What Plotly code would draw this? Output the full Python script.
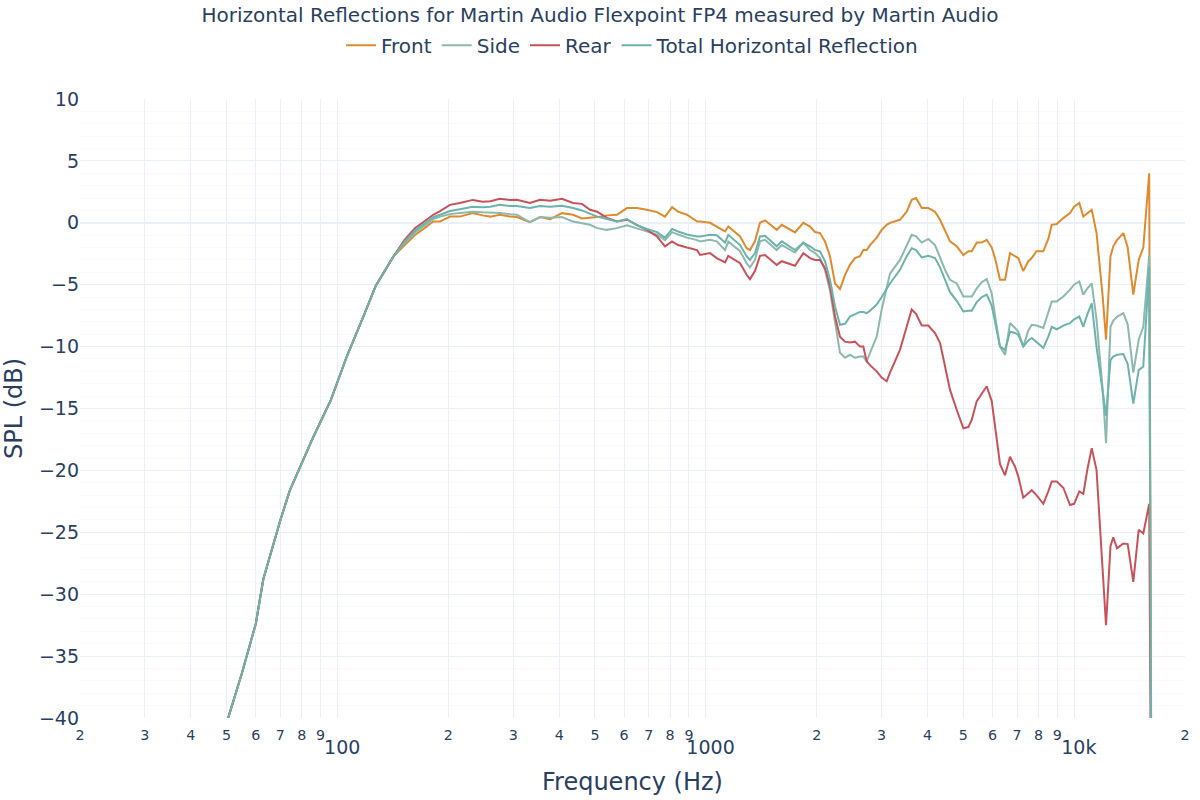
import plotly.graph_objects as go

# Shared frequency grid (Hz)
freq = [45, 50.5, 55, 60, 62.9, 66, 70, 74.3, 81, 86, 96, 106, 117.5, 127, 142,
        152, 162, 172, 182, 190, 202, 215, 233, 248, 260, 276, 294, 307, 333, 355,
        378, 407, 436, 461, 485, 507, 539, 574, 611, 650, 692, 737, 775, 810, 841,
        889, 947, 965, 1027, 1071, 1128, 1151, 1239, 1291, 1318, 1360, 1403, 1448,
        1558, 1608, 1747, 1840, 1919, 1980, 2042, 2107, 2174, 2243, 2314, 2388,
        2463, 2541, 2622, 2677, 2735, 2792, 2911, 3003, 3098, 3163, 3367, 3511,
        3623, 3722, 3857, 4019, 4191, 4325, 4462, 4603, 4800, 5004, 5163, 5274,
        5441, 5613, 5790, 5975, 6099, 6292, 6493, 6698, 6912, 7056, 7277, 7510,
        7672, 7904, 8249, 8510, 8694, 8971, 9347, 9747, 10000, 10330, 10592,
        10860, 11163, 11502, 11958, 12207, 12554, 12776, 13075, 13600, 13979,
        14477, 14974, 15411, 15990, 16273]

low = [-47, -40, -36.4, -32.4, -28.8, -26.6, -24.0, -21.6, -19.1, -17.3, -14.3,
       -10.8, -7.6, -5.1, -2.7]

front = low + [
    -1.85, -1.0, -0.45, 0.1, 0.1, 0.5, 0.5, 0.78, 0.6, 0.5, 0.65, 0.5, 0.46, 0.05, 0.46,
    0.3, 0.78, 0.65, 0.35, 0.4, 0.46, 0.6, 0.65, 1.19, 1.19, 1.05, 0.86, 0.5, 1.27, 0.9,
    0.65, 0.1, 0.1, 0.0, -0.3, -0.7, -0.3, -1.1, -2.05, -2.2, -1.5, 0.0, 0.2,
    -0.57, -0.16, -0.78, 0.0, -0.3, -0.75, -0.83, -1.5, -2.7, -4.9, -5.35, -4.2,
    -3.4, -2.85, -2.7, -2.2, -2.2, -1.8, -1.2, -0.57, -0.16, 0.0, 0.24, 0.9,
    1.86, 2.0, 1.19, 1.19, 0.9, 0.24, -0.7, -1.5, -1.9, -2.6, -2.3, -2.3,
    -1.6, -1.6, -1.37, -2.0, -2.85, -4.6, -4.6, -2.45, -2.7, -2.85, -3.9, -3.1,
    -2.85, -2.3, -2.3, -1.3, -0.16, -0.1, 0.38, 0.78, 1.3, 1.6, 0.5,
    0.8, 1.05, -0.8, -6.0, -9.45, -2.7, -1.9, -1.4, -0.83, -2.0,
    -5.8, -3.0, -2.0, 4.0, -60]

side = low + [
    -1.65, -0.8, -0.2, 0.3, 0.5, 0.7, 0.8, 0.9, 0.85, 0.85, 0.8, 0.7, 0.65, 0.05, 0.46,
    0.4, 0.46, 0.1, -0.05, -0.16, -0.43, -0.57, -0.43, -0.2, -0.45, -0.7, -0.95, -1.4, -0.75, -0.95,
    -1.2, -1.4, -1.5, -1.37, -1.5, -2.2, -1.5, -2.3, -3.26, -3.6, -3.0, -1.5, -1.37,
    -2.2, -1.8, -2.4, -1.6, -2.2, -2.45, -2.85, -3.8, -5.5, -7.9, -10.5, -10.9,
    -10.66, -10.9, -10.8, -10.8, -11.2, -10.5, -9.2, -7.0, -5.3, -4.1, -3.0, -1.9,
    -0.97, -1.1, -1.6, -1.3, -1.8, -2.8, -3.8, -4.6, -4.9, -5.95, -5.95, -5.95,
    -5.3, -4.8, -4.55, -5.7, -7.5, -10.0, -10.66, -8.1, -8.5, -8.8, -10.0, -8.7,
    -8.24, -8.3, -8.5, -7.3, -6.35, -6.35, -5.95, -5.4, -5.0, -4.74, -5.8,
    -5.3, -4.9, -7.8, -13.5, -17.8, -8.4, -7.9, -7.6, -7.3, -8.2,
    -12.1, -9.45, -8.4, -2.6, -60]

rear = low + [
    -1.4, -0.45, 0.15, 0.65, 0.95, 1.45, 1.6, 1.85, 1.7, 1.75, 1.95, 1.85, 1.86, 1.6, 1.86,
    1.78, 1.94, 1.6, 1.53, 1.05, 0.9, 0.4, 0.1, 0.25, -0.16, -0.57, -1.1, -1.9, -1.5, -1.8,
    -2.0, -2.2, -2.6, -2.45, -2.85, -3.2, -2.67, -3.26, -4.2, -4.55, -3.9, -2.67, -2.6,
    -3.4, -3.1, -3.47, -2.45, -2.85, -3.0, -3.0, -3.66, -5.1, -7.57, -9.2, -9.6,
    -9.67, -9.6, -10.0, -10.0, -11.2, -11.5, -12.0, -12.5, -12.8, -12.1, -10.26, -8.4,
    -7.0, -7.35, -8.3, -8.3, -8.9, -9.7, -11.6, -13.5, -15.1, -16.6, -16.5, -15.9,
    -14.4, -13.8, -13.2, -14.4, -16.45, -19.5, -20.4, -18.9, -19.7, -20.5, -22.2, -21.8,
    -21.6, -22.0, -22.7, -21.7, -20.9, -20.9, -21.4, -22.8, -22.7, -21.7, -21.9,
    -19.95, -18.2, -19.95, -28.8, -32.5, -26.1, -25.4, -26.3, -25.9, -25.95,
    -29.0, -24.8, -25.1, -22.7, -60]

total = low + [
    -1.55, -0.65, -0.05, 0.45, 0.65, 0.95, 1.1, 1.3, 1.25, 1.3, 1.45, 1.35, 1.35, 1.2, 1.35,
    1.3, 1.37, 1.2, 1.0, 0.7, 0.5, 0.3, 0.1, 0.3, -0.2, -0.5, -0.75, -1.2, -0.5, -0.7,
    -0.95, -1.1, -1.1, -0.97, -1.0, -1.6, -0.97, -1.8, -2.7, -3.0, -2.45, -1.1, -1.05,
    -1.9, -1.5, -2.2, -1.6, -1.9, -2.2, -2.3, -3.1, -4.6, -6.76, -8.24, -8.16,
    -7.57, -7.4, -7.2, -7.2, -7.3, -7.1, -6.6, -6.0, -5.3, -4.9, -3.8, -2.7,
    -2.05, -2.2, -2.8, -2.67, -2.85, -3.6, -4.6, -5.6, -6.3, -7.16, -7.1, -7.1,
    -6.4, -6.0, -5.8, -6.7, -8.0, -10.0, -10.26, -8.8, -8.9, -9.05, -10.0, -9.5,
    -9.3, -9.6, -10.1, -9.2, -8.4, -8.6, -8.3, -8.1, -7.8, -7.57, -8.4,
    -7.4, -6.5, -10.0, -13.5, -15.6, -11.1, -10.8, -10.66, -10.6, -11.4,
    -14.6, -11.9, -11.6, -3.6, -60]

series = [
    ("Front", front, "#e08a2e"),
    ("Side", side, "#8cb9ae"),
    ("Rear", rear, "#c9525a"),
    ("Total Horizontal Reflection", total, "#6cb3ab"),
]

FONT = "DejaVu Sans"

fig = go.Figure()
for name, vals, color in series:
    fig.add_trace(go.Scatter(x=freq, y=vals, mode="lines", name=name,
                             line=dict(color=color, width=2)))

fig.update_layout(
    template="plotly_white",
    width=1200, height=800,
    font=dict(family=FONT, color="#2a3f5f"),
    margin=dict(l=80, r=15, t=99, b=82),
    title=dict(text="Horizontal Reflections for Martin Audio Flexpoint FP4 measured by Martin Audio",
               x=0.5, xanchor="center", y=0.981, yanchor="middle",
               font=dict(size=20, family=FONT, color="#2a3f5f")),
    legend=dict(orientation="h", x=0.5, xanchor="center", y=1.087, yanchor="middle",
                font=dict(size=20, family=FONT, color="#2a3f5f")),
    showlegend=True,
)
fig.update_xaxes(type="log", range=[1.30103, 4.30103], dtick="D1", automargin=False,
                 ticks="outside", ticklen=3, tickcolor="rgba(0,0,0,0)",
                 title=dict(text="Frequency (Hz)", font=dict(size=24, family=FONT)),
                 tickfont=dict(size=19, family=FONT), showgrid=True)
fig.update_yaxes(range=[-40, 10], dtick=5, automargin=False,
                 title=dict(text="SPL (dB)", font=dict(size=24, family=FONT)),
                 tickfont=dict(size=19, family=FONT), showgrid=True,
                 minor=dict(dtick=1, showgrid=True))

fig.write_html("out.html", config={"displayModeBar": False},
               post_script="document.body.style.margin='0px';")
